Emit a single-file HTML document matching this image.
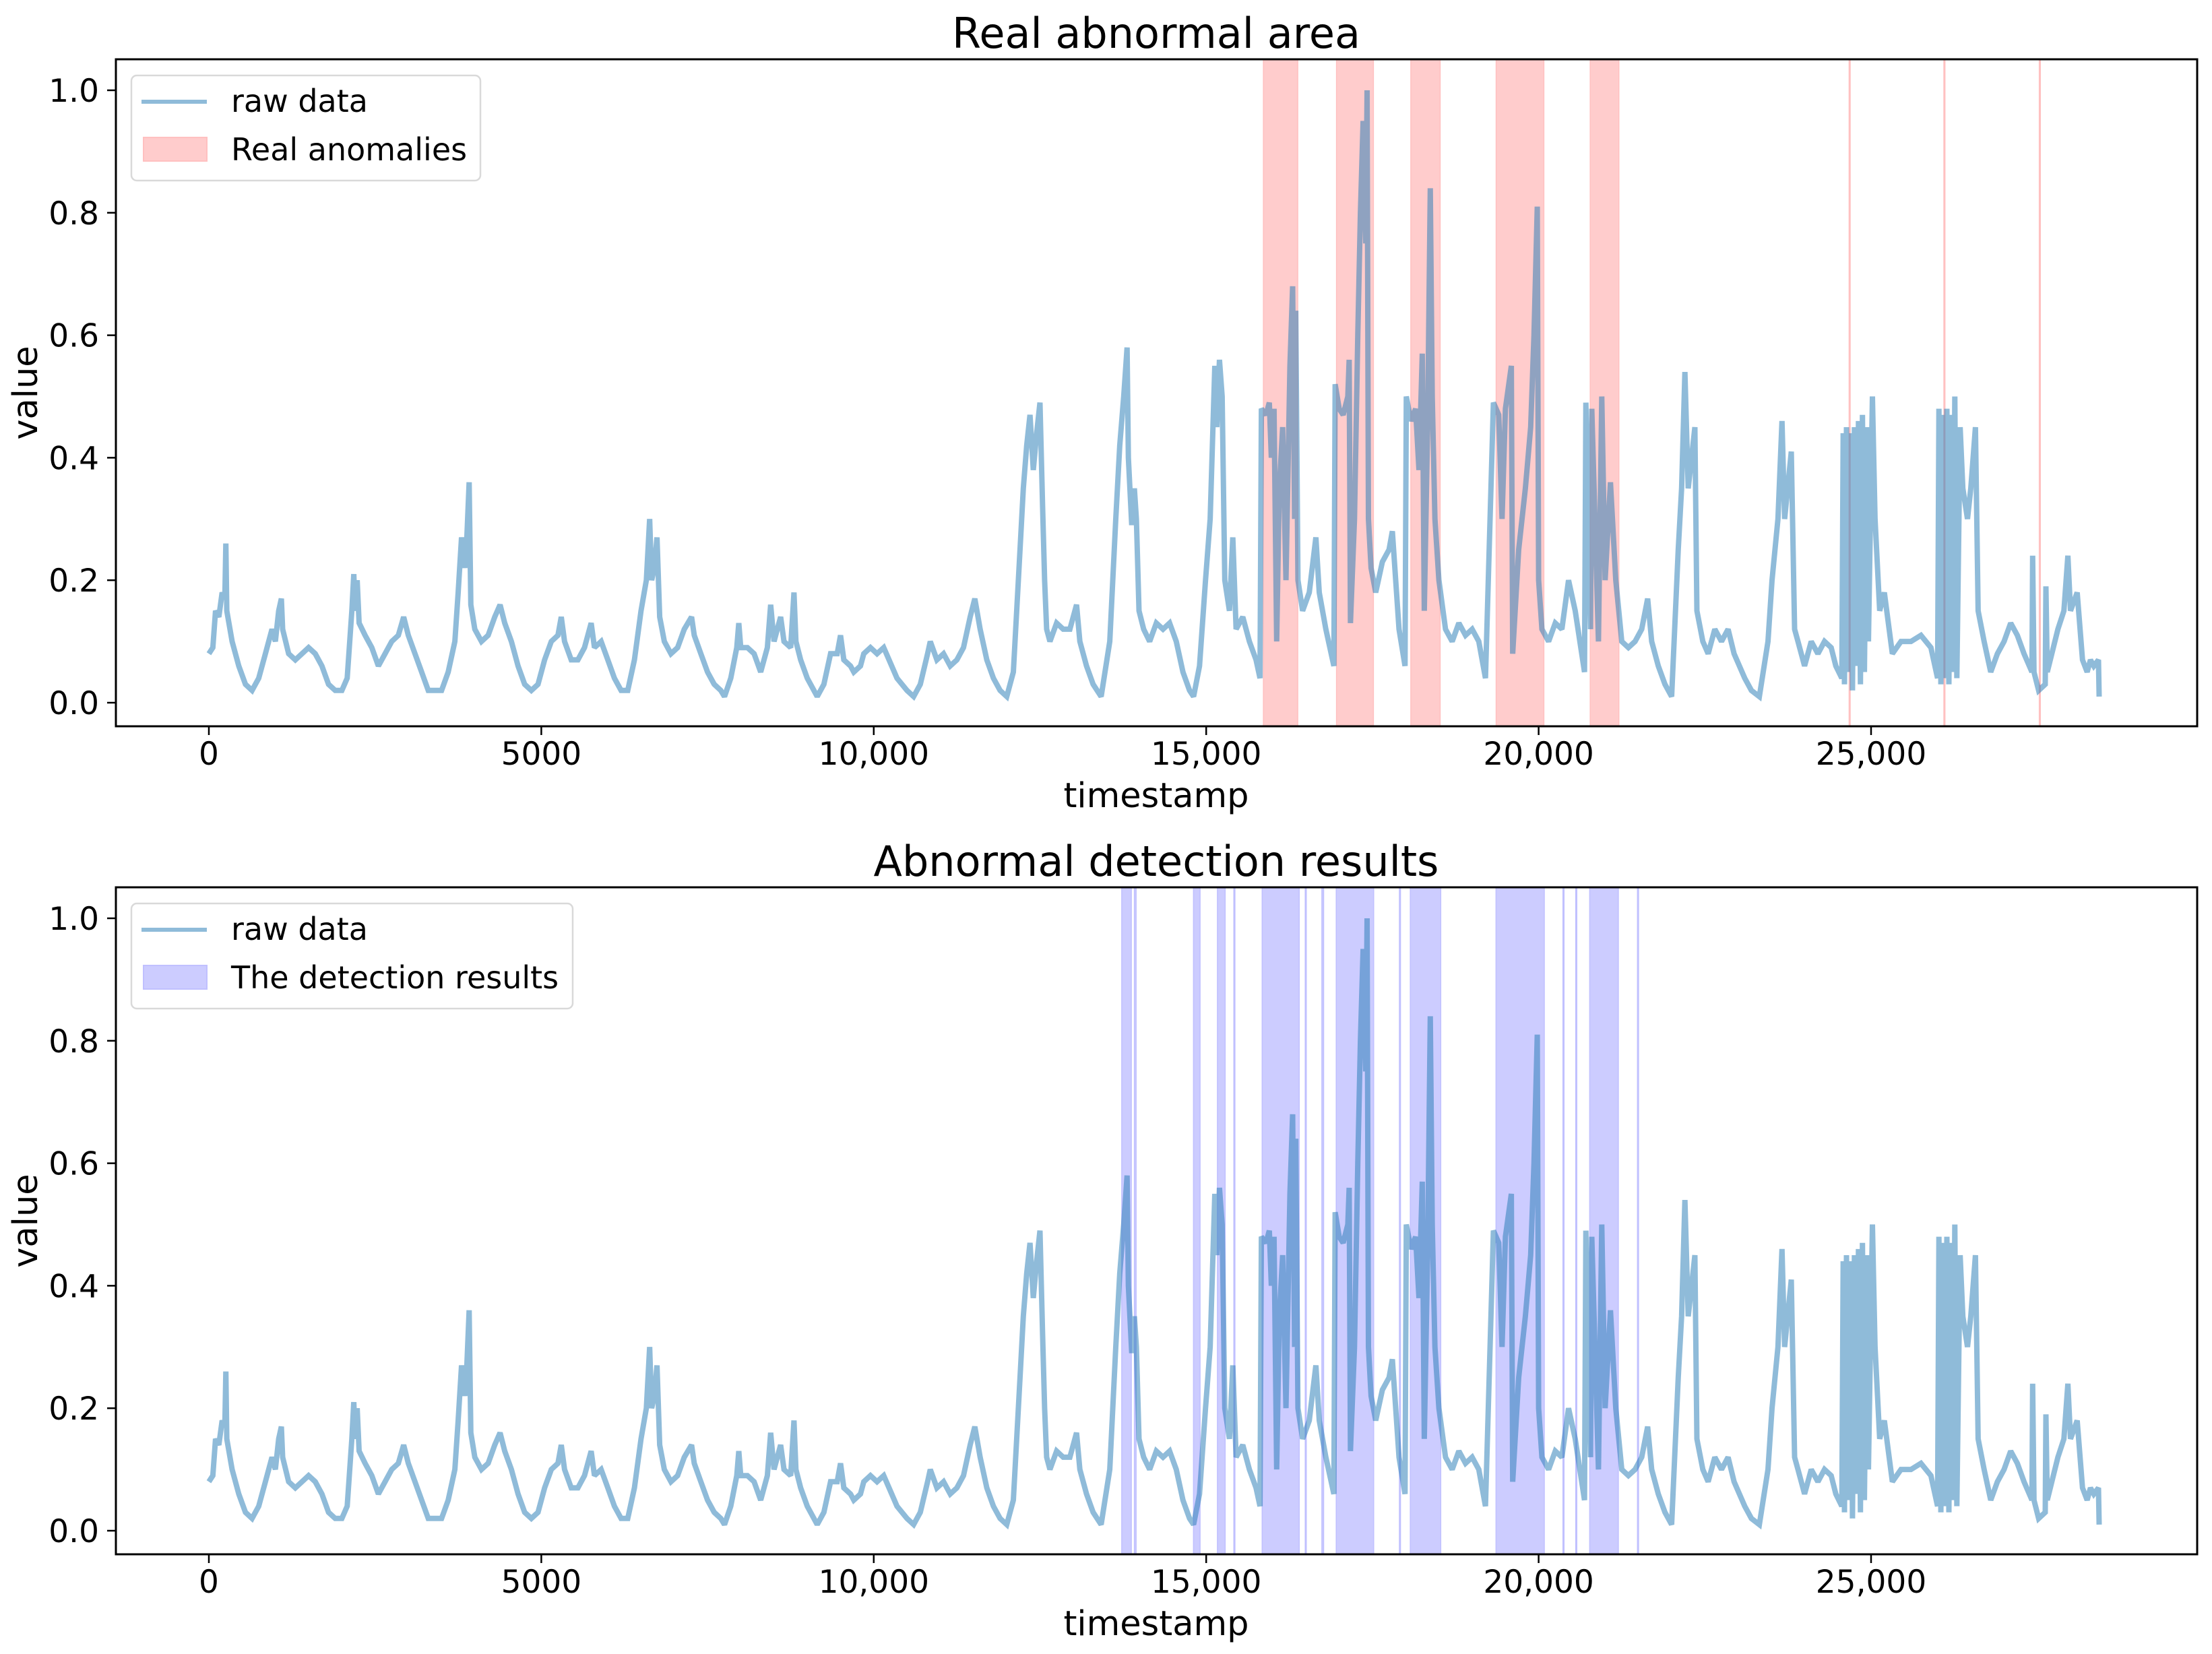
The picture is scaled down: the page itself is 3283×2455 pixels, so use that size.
<!DOCTYPE html>
<html><head><meta charset="utf-8">
<style>
html,body{margin:0;padding:0;background:#fff;}
svg{display:block;}
text{font-family:"DejaVu Sans","Liberation Sans",sans-serif;fill:#000;}
</style></head>
<body>
<svg id="fig" width="3283" height="2455" viewBox="0 0 3283 2455" xmlns="http://www.w3.org/2000/svg">
<rect width="3283" height="2455" fill="#fff"/>
</svg>
<script>
// ---- data ----
const timestamps = [0,60,100,150,200,240,255,270,350,450,550,650,750,850,950,1000,1050,1090,1110,1200,1300,1400,1500,1600,1700,1800,1900,2000,2080,2150,2180,2200,2230,2260,2350,2450,2550,2650,2750,2850,2930,3000,3100,3200,3300,3400,3500,3600,3700,3750,3800,3850,3880,3915,3940,4000,4100,4200,4300,4380,4450,4550,4650,4750,4850,4950,5050,5150,5250,5300,5350,5450,5550,5650,5750,5800,5900,6000,6100,6200,6300,6400,6500,6580,6630,6660,6700,6740,6780,6850,6950,7050,7150,7260,7300,7400,7500,7600,7700,7755,7850,7940,7970,8000,8100,8200,8300,8400,8450,8500,8600,8650,8750,8800,8830,8900,9000,9100,9150,9250,9350,9450,9500,9550,9650,9700,9800,9850,9950,10050,10150,10230,10350,10500,10600,10700,10810,10850,10950,11050,11150,11250,11350,11450,11520,11600,11700,11800,11900,12000,12100,12200,12250,12300,12350,12400,12450,12500,12540,12570,12600,12650,12750,12850,12950,13050,13100,13200,13300,13420,13550,13640,13700,13760,13810,13830,13880,13920,13950,13990,14060,14150,14250,14350,14450,14550,14650,14750,14810,14900,14990,15060,15130,15160,15200,15240,15280,15350,15400,15450,15550,15650,15750,15810,15830,15900,15950,15980,16020,16060,16100,16150,16200,16260,16300,16330,16347,16380,16450,16550,16650,16700,16800,16920,16940,17000,17060,17130,17150,17170,17230,17280,17320,17360,17400,17420,17440,17480,17550,17650,17750,17800,17900,17990,18010,18080,18150,18200,18250,18280,18330,18370,18400,18440,18500,18600,18700,18800,18900,19000,19100,19200,19320,19400,19450,19500,19590,19610,19700,19800,19880,19930,19980,20000,20050,20150,20250,20350,20450,20550,20690,20710,20780,20800,20900,20950,21000,21080,21160,21250,21350,21450,21550,21640,21700,21800,21900,22000,22100,22150,22200,22250,22300,22350,22380,22470,22550,22650,22750,22850,22940,23100,23200,23320,23450,23510,23600,23660,23700,23800,23850,23900,24000,24100,24200,24300,24400,24470,24560,24580,24600,24630,24660,24690,24720,24750,24780,24810,24840,24870,24900,24940,24960,25020,25060,25130,25200,25320,25450,25600,25750,25900,26000,26020,26050,26080,26110,26140,26170,26200,26230,26260,26290,26340,26380,26450,26500,26570,26610,26700,26800,26900,27000,27100,27200,27300,27420,27430,27450,27520,27620,27630,27650,27810,27900,27960,28000,28100,28180,28250,28300,28350,28420,28430];
const rawValues = [.08,.09,.15,.14,.18,.17,.26,.15,.1,.06,.03,.02,.04,.08,.12,.1,.15,.17,.12,.08,.07,.08,.09,.08,.06,.03,.02,.02,.04,.15,.21,.15,.2,.13,.11,.09,.06,.08,.1,.11,.14,.11,.08,.05,.02,.02,.02,.05,.1,.18,.27,.22,.27,.36,.16,.12,.1,.11,.14,.16,.13,.1,.06,.03,.02,.03,.07,.1,.11,.14,.1,.07,.07,.09,.13,.09,.1,.07,.04,.02,.02,.07,.15,.2,.3,.2,.22,.27,.14,.1,.08,.09,.12,.14,.11,.08,.05,.03,.02,.01,.04,.09,.13,.09,.09,.08,.05,.09,.16,.1,.14,.1,.09,.18,.1,.07,.04,.02,.01,.03,.08,.08,.11,.07,.06,.05,.06,.08,.09,.08,.09,.07,.04,.02,.01,.03,.08,.1,.07,.08,.06,.07,.09,.14,.17,.12,.07,.04,.02,.01,.05,.25,.35,.42,.47,.38,.44,.49,.32,.2,.12,.1,.13,.12,.12,.16,.1,.06,.03,.01,.1,.3,.42,.5,.58,.4,.29,.35,.3,.15,.12,.1,.13,.12,.13,.1,.05,.02,.01,.06,.2,.3,.55,.45,.56,.5,.2,.15,.27,.12,.14,.1,.07,.04,.48,.47,.49,.4,.48,.1,.35,.45,.2,.55,.68,.3,.64,.2,.15,.18,.27,.18,.12,.06,.52,.48,.47,.5,.56,.13,.3,.6,.8,.95,.75,1.0,.3,.22,.18,.23,.25,.28,.12,.06,.5,.46,.48,.38,.57,.15,.45,.84,.5,.3,.2,.12,.1,.13,.11,.12,.1,.04,.49,.47,.3,.48,.55,.08,.25,.35,.45,.6,.81,.2,.12,.1,.13,.12,.2,.15,.05,.49,.12,.48,.1,.5,.2,.36,.2,.1,.09,.1,.12,.17,.1,.06,.03,.01,.25,.35,.54,.35,.4,.45,.15,.1,.08,.12,.1,.12,.08,.04,.02,.01,.1,.2,.3,.46,.3,.41,.12,.1,.06,.1,.08,.1,.09,.06,.04,.44,.03,.45,.05,.44,.02,.45,.06,.46,.03,.47,.05,.45,.1,.5,.3,.15,.18,.08,.1,.1,.11,.09,.04,.48,.03,.47,.04,.48,.03,.47,.05,.5,.04,.45,.35,.3,.35,.45,.15,.1,.05,.08,.1,.13,.11,.08,.05,.24,.05,.02,.03,.19,.05,.12,.15,.24,.15,.18,.07,.05,.07,.06,.07,.01];
const realSpanStart = [15861,16960,18078,19361,20776,24670,26095,27530];
const realSpanEnd   = [16377,17515,18519,20079,21207,24686,26111,27546];
const detSpanStart = [13730,13920,14809,15169,15416,15842,16490,16740,16956,17906,18070,19359,20366,20558,20768,21487];
const detSpanEnd   = [13874,13946,14908,15285,15432,16399,16504,16766,17519,17922,18528,20085,20382,20574,21199,21503];
const xTickValues = [0,5000,10000,15000,20000,25000];
const xTickLabels = ["0","5000","10,000","15,000","20,000","25,000"];
const yTickValues = [0,0.2,0.4,0.6,0.8,1.0];
const yTickLabels = ["0.0","0.2","0.4","0.6","0.8","1.0"];

const NS = "http://www.w3.org/2000/svg";
const svg = document.getElementById('fig');
const AX_L = 172, AX_R = 3261;
const xPx = t => 310 + t * 0.09868;
function mk(tag, attrs, parent){ const e=document.createElementNS(NS,tag); for(const k in attrs) e.setAttribute(k,attrs[k]); parent.appendChild(e); return e; }

function panel(cfg){
  const top = cfg.top, bot = top + 990;
  const y0 = top + 955, unit = 909;
  const yPx = v => y0 - v * unit;
  const g = mk('g',{},svg);
  
  
  const sg = mk('g',{},g);
  
  
  for(let i=0;i<cfg.starts.length;i++){
    const x1 = xPx(cfg.starts[i]), x2 = xPx(cfg.ends[i]);
    const r = mk('rect',{x:x1,y:top,width:Math.max(x2-x1,1.5),height:bot-top,fill:cfg.fill,stroke:cfg.edge,'stroke-width':1.5},sg);
    
    
  }
  let d='';
  for(let i=0;i<timestamps.length;i++){ d += (i?'L':'M') + xPx(timestamps[i]).toFixed(1)+','+yPx(rawValues[i]).toFixed(1); }
  const ln = mk('path',{d:d,fill:'none',stroke:'#1f77b4','stroke-opacity':0.5,'stroke-width':8,'stroke-linejoin':'miter','stroke-miterlimit':2},g);
  
  
  const fr = mk('rect',{x:AX_L,y:top,width:AX_R-AX_L,height:bot-top,fill:'none',stroke:'#000','stroke-width':3},g);
  
  
  for(let i=0;i<xTickValues.length;i++){
    const x = xPx(xTickValues[i]);
    const tk = mk('line',{x1:x,x2:x,y1:bot,y2:bot+13,stroke:'#000','stroke-width':2.5},g);
    
    
    const tl = mk('text',{x:x,y:bot+57,'text-anchor':'middle','font-size':47},g);
    tl.textContent = xTickLabels[i];
    
    
  }
  for(let i=0;i<yTickValues.length;i++){
    const y = yPx(yTickValues[i]);
    const tk = mk('line',{x1:AX_L-13,x2:AX_L,y1:y,y2:y,stroke:'#000','stroke-width':2.5},g);
    
    
    const tl = mk('text',{x:AX_L-25,y:y+17,'text-anchor':'end','font-size':47},g);
    tl.textContent = yTickLabels[i];
    
    
  }
  const tt = mk('text',{x:1716,y:top-17,'text-anchor':'middle','font-size':62},g);
  tt.textContent = cfg.title;
  
  
  const xl = mk('text',{x:1716,y:bot+120,'text-anchor':'middle','font-size':51},g);
  xl.textContent = 'timestamp';
  
  
  const yc = top + 495;
  const yl = mk('text',{x:55,y:yc,'text-anchor':'middle','font-size':51,transform:'rotate(-90 55 '+yc+')'},g);
  yl.textContent = 'value';
  
  
  const lg = mk('g',{},g);
  
  
  mk('rect',{x:195,y:top+24,width:cfg.legW,height:156,rx:8,fill:'#fff','fill-opacity':0.8,stroke:'#d9d9d9','stroke-width':2.5},lg);
  const l1 = mk('line',{x1:210,x2:307,y1:top+63,y2:top+63,stroke:'#1f77b4','stroke-opacity':0.5,'stroke-width':6},lg);
  
  
  const t1 = mk('text',{x:343,y:top+78,'font-size':46},lg);
  t1.textContent = 'raw data';
  
  
  const p2 = mk('rect',{x:213,y:top+116,width:94,height:35,fill:cfg.fill,stroke:cfg.edge,'stroke-width':2},lg);
  
  
  const t2 = mk('text',{x:343,y:top+150,'font-size':46},lg);
  t2.textContent = cfg.legLabel;
  
  
}

panel({top:88,name:'real-anomaly-panel',title:'Real abnormal area',starts:realSpanStart,ends:realSpanEnd,fill:'#ffcccc',edge:'#ffc0c0',spanName:'real-anomaly-span',legLabel:'Real anomalies',legW:518});
panel({top:1317,name:'detection-panel',title:'Abnormal detection results',starts:detSpanStart,ends:detSpanEnd,fill:'#ccccff',edge:'#c0c0ff',spanName:'detection-span',legLabel:'The detection results',legW:655});
</script>
</body></html>
